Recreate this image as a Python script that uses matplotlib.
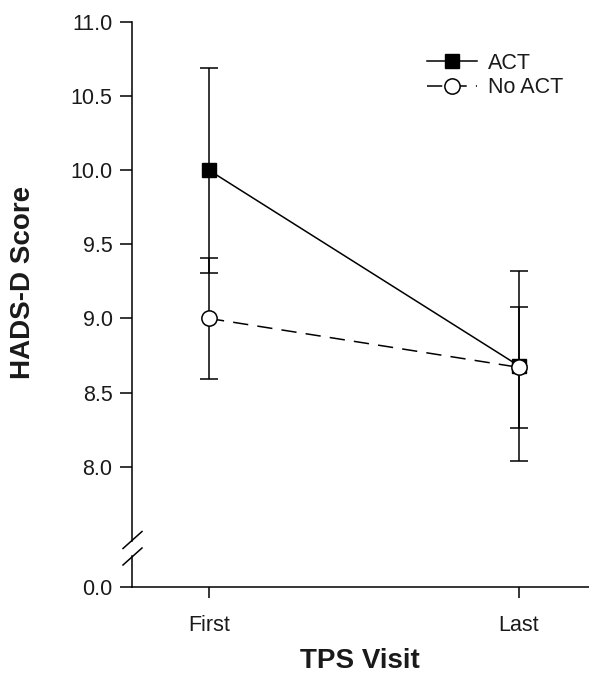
import matplotlib
matplotlib.use("Agg")
import matplotlib.pyplot as plt
from matplotlib.lines import Line2D

plt.rcParams['font.family'] = ['Liberation Sans', 'DejaVu Sans']

# ---- data ----
visits = ["First", "Last"]
act_mean = [10.0, 8.68]
act_err = [0.69, 0.64]
noact_mean = [9.0, 8.67]
noact_err = [0.41, 0.41]
series_labels = ["ACT", "No ACT"]
yticks_top = [8.0, 8.5, 9.0, 9.5, 10.0, 10.5, 11.0]
yticks_bottom = [0.0]

W, H = 589, 676
fig = plt.figure(figsize=(W / 100, H / 100), dpi=100)

def fx(px):
    return px / W

def fy(py):
    return 1 - py / H

x_left_px, x_right_px = 132, 589
top_y0, top_y1 = 22, 540.8
bot_y0, bot_y1 = 556, 587

ax = fig.add_axes([fx(x_left_px), fy(top_y1), fx(x_right_px - x_left_px), (top_y1 - top_y0) / H])
axb = fig.add_axes([fx(x_left_px), fy(bot_y1), fx(x_right_px - x_left_px), (bot_y1 - bot_y0) / H])

xs = list(range(len(visits)))
xlim = (-0.2484, 1.2259)
lw = 1.1
col = 'black'
tcol = '#1a1a1a'

# error bars
ax.errorbar(xs, act_mean, yerr=act_err, fmt='none', ecolor=col, elinewidth=lw,
            capsize=6.5, capthick=lw, zorder=2)
ax.errorbar(xs, noact_mean, yerr=noact_err, fmt='none', ecolor=col, elinewidth=lw,
            capsize=6.5, capthick=lw, zorder=2)
# lines
ax.plot(xs, act_mean, color=col, lw=lw, marker='s', ms=10, mfc=col, mec=col,
        mew=1.0, label=series_labels[0], zorder=3)
ax.plot(xs, noact_mean, color=col, lw=lw, linestyle=(0, (10, 6)), marker='o', ms=11,
        mfc='white', mec=col, mew=1.1, label=series_labels[1], zorder=4)

for a in (ax, axb):
    a.set_xlim(*xlim)
    a.spines['right'].set_visible(False)
    a.spines['top'].set_visible(False)
    a.spines['left'].set_linewidth(lw)
    a.spines['bottom'].set_linewidth(lw)
    a.patch.set_alpha(0)

ax.spines['bottom'].set_visible(False)
ax.set_ylim(7.5, 11.0)
ax.set_yticks(yticks_top)
ax.set_yticklabels([f"{v:.1f}" for v in yticks_top])
ax.set_xticks([])
ax.tick_params(axis='y', direction='out', length=8.5, width=lw, labelsize=15.5, pad=5.5,
               labelcolor=tcol)

axb.set_ylim(0, (bot_y1 - bot_y0) / 149.6)
axb.set_yticks(yticks_bottom)
axb.set_yticklabels([f"{v:.1f}" for v in yticks_bottom])
axb.set_xticks(xs)
axb.set_xticklabels(visits)
axb.tick_params(axis='y', direction='out', length=8.5, width=lw, labelsize=15.5, pad=5.5,
                labelcolor=tcol)
axb.tick_params(axis='x', direction='out', length=8, width=lw, labelsize=15.5, pad=12,
                labelcolor=tcol)

# break marks
for cy in (540, 556.5):
    fig.add_artist(Line2D([fx(123), fx(142)], [fy(cy + 8.5), fy(cy - 8.5)],
                          transform=fig.transFigure, color=col, lw=lw))

# axis labels
fig.text(fx(23), fy(282), "HADS-D Score", rotation=90, ha='center', va='center',
         fontsize=20, fontweight='bold', color=tcol)
fig.text(fx(360), fy(661), "TPS Visit", ha='center', va='center',
         fontsize=20, fontweight='bold', color=tcol)

leg = ax.legend(loc='upper left', bbox_to_anchor=(fx(427), fy(53)),
                bbox_transform=fig.transFigure, frameon=False, fontsize=15.5,
                handlelength=2.3, handletextpad=0.55, labelspacing=0.15,
                borderpad=0, borderaxespad=0)
for t in leg.get_texts():
    t.set_color(tcol)

fig.savefig("out.png", dpi=100)
